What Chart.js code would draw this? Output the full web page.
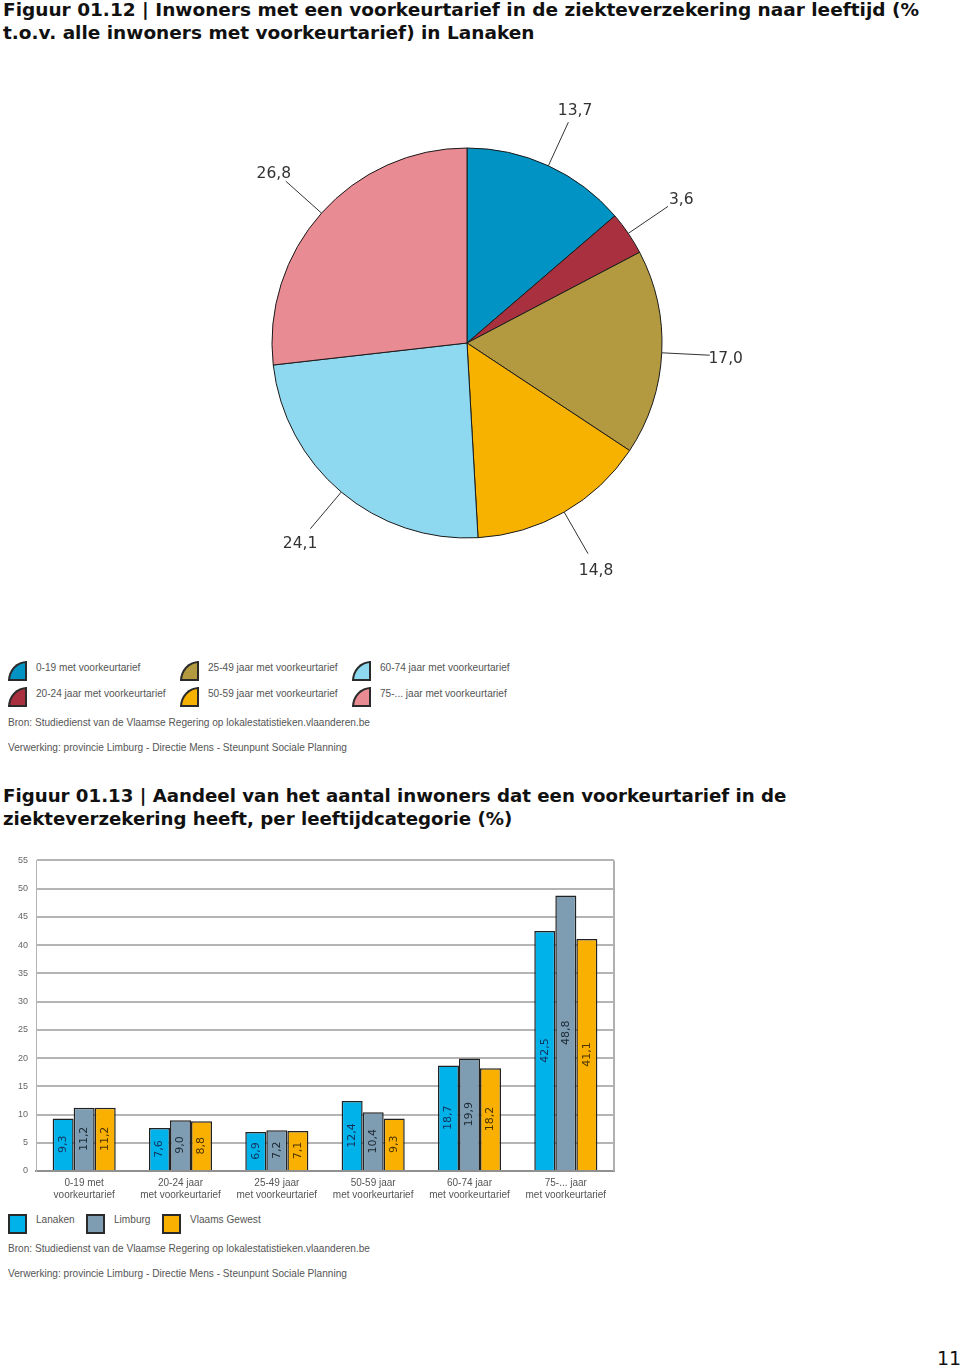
<!DOCTYPE html>
<html>
<head>
<meta charset="utf-8">
<script src="https://cdn.jsdelivr.net/npm/chart.js@4.4.1/dist/chart.umd.min.js"></script>
<style>
  html, body { margin:0; padding:0; background:#fff; }
  body { width:960px; height:1369px; position:relative; overflow:hidden; font-family:"DejaVu Sans", Verdana, sans-serif; }
  .title { position:absolute; left:3px; font-weight:bold; font-size:18.5px; line-height:22.5px; color:#111; white-space:nowrap; }
  .small { position:absolute; font-family:"Liberation Sans", Arial, sans-serif; font-size:10.1px; color:#555; white-space:nowrap; }
  .qicon { position:absolute; width:15px; height:16px; border:2px solid #2a2a2a; border-top-left-radius:100%; }
  .sq { position:absolute; width:15px; height:16px; border:2px solid #2a2a2a; }
  canvas { position:absolute; }
</style>
</head>
<body>
<div class="title" style="top:-1px;">Figuur 01.12 | Inwoners met een voorkeurtarief in de ziekteverzekering naar leeftijd (%<br>t.o.v. alle inwoners met voorkeurtarief) in Lanaken</div>

<canvas id="pie" width="600" height="560" style="left:167px; top:63px; width:600px; height:560px;"></canvas>

<div id="pieLegend"></div>
<div class="small" style="left:8px; top:717px;">Bron: Studiedienst van de Vlaamse Regering op lokalestatistieken.vlaanderen.be</div>
<div class="small" style="left:8px; top:742px;">Verwerking: provincie Limburg - Directie Mens - Steunpunt Sociale Planning</div>

<div class="title" style="top:785px; font-size:18.2px;">Figuur 01.13 | Aandeel van het aantal inwoners dat een voorkeurtarief in de<br>ziekteverzekering heeft, per leeftijdcategorie (%)</div>

<canvas id="bar" width="620" height="364" style="left:0px; top:847px; width:620px; height:364px;"></canvas>

<div id="barLegend"></div>
<div class="small" style="left:8px; top:1243px;">Bron: Studiedienst van de Vlaamse Regering op lokalestatistieken.vlaanderen.be</div>
<div class="small" style="left:8px; top:1268px;">Verwerking: provincie Limburg - Directie Mens - Steunpunt Sociale Planning</div>

<div style="position:absolute; left:937px; top:1347px; font-size:19px; color:#111;">11</div>

<script>
// ---------- DATA ----------
const pieLabels = ["0-19 met voorkeurtarief", "20-24 jaar met voorkeurtarief", "25-49 jaar met voorkeurtarief", "50-59 jaar met voorkeurtarief", "60-74 jaar met voorkeurtarief", "75-... jaar met voorkeurtarief"];
const pieValues = [13.7, 3.6, 17.0, 14.8, 24.1, 26.8];
const pieColors = ["#0093c4", "#a8303f", "#b39a41", "#f7b200", "#8ed8f0", "#e88b93"];

const barCategories = [["0-19 met", "voorkeurtarief"], ["20-24 jaar", "met voorkeurtarief"], ["25-49 jaar", "met voorkeurtarief"], ["50-59 jaar", "met voorkeurtarief"], ["60-74 jaar", "met voorkeurtarief"], ["75-... jaar", "met voorkeurtarief"]];
const seriesNames = ["Lanaken", "Limburg", "Vlaams Gewest"];
const lanaken = [9.3, 7.6, 6.9, 12.4, 18.7, 42.5];
const limburg = [11.2, 9.0, 7.2, 10.4, 19.9, 48.8];
const vlaams = [11.2, 8.8, 7.1, 9.3, 18.2, 41.1];
const barColors = ["#00b2ea", "#7f9db2", "#f9b000"];
const barLabelColors = ["#14305a", "#1c2833", "#4a3300"];
const yTicks = [0, 5, 10, 15, 20, 25, 30, 35, 40, 45, 50, 55];

const fmt = v => v.toFixed(1).replace('.', ',');

// ---------- LEGENDS (HTML) ----------
(function(){
  const pl = document.getElementById('pieLegend');
  const colX = [8, 180, 352];
  const rowY = [661, 687];
  const order = [[0,0],[1,0],[0,1],[1,1],[0,2],[1,2]]; // [row, col] per slice
  pieLabels.forEach((lab, i) => {
    const [r, c] = order[i];
    const ic = document.createElement('div');
    ic.className = 'qicon';
    ic.style.left = colX[c] + 'px'; ic.style.top = rowY[r] + 'px';
    ic.style.background = pieColors[i];
    pl.appendChild(ic);
    const t = document.createElement('div');
    t.className = 'small';
    t.style.left = (colX[c] + 28) + 'px'; t.style.top = (rowY[r] + 1) + 'px';
    t.textContent = lab;
    pl.appendChild(t);
  });
  const bl = document.getElementById('barLegend');
  const sx = [8, 86, 162];
  seriesNames.forEach((n, i) => {
    const s = document.createElement('div');
    s.className = 'sq';
    s.style.left = sx[i] + 'px'; s.style.top = '1214px';
    s.style.background = barColors[i];
    bl.appendChild(s);
    const t = document.createElement('div');
    t.className = 'small';
    t.style.left = (sx[i] + 28) + 'px'; t.style.top = '1214px';
    t.textContent = n;
    bl.appendChild(t);
  });
})();

// ---------- PIE ----------
const pieLabelPlugin = {
  id: 'pieLabels',
  afterDatasetsDraw(chart) {
    const ctx = chart.ctx;
    const meta = chart.getDatasetMeta(0);
    ctx.save();
    ctx.strokeStyle = '#333';
    ctx.lineWidth = 1;
    ctx.fillStyle = '#333';
    ctx.font = '15.5px "DejaVu Sans", Verdana, sans-serif';
    ctx.textAlign = 'center';
    ctx.textBaseline = 'middle';
    meta.data.forEach((arc, i) => {
      const p = arc.getProps(['x','y','startAngle','endAngle','outerRadius'], true);
      const mid = (p.startAngle + p.endAngle) / 2;
      const r = p.outerRadius;
      const cx = Math.cos(mid), cy = Math.sin(mid);
      ctx.beginPath();
      ctx.moveTo(p.x + cx * r, p.y + cy * r);
      ctx.lineTo(p.x + cx * (r + 48), p.y + cy * (r + 48));
      ctx.stroke();
      ctx.fillText(fmt(pieValues[i]), p.x + cx * (r + 64), p.y + cy * (r + 64) + 3);
    });
    ctx.restore();
  }
};

new Chart(document.getElementById('pie'), {
  type: 'pie',
  data: {
    labels: pieLabels,
    datasets: [{ data: pieValues, backgroundColor: pieColors, borderColor: '#1a1a1a', borderWidth: 1 }]
  },
  options: {
    responsive: false,
    animation: false,
    radius: 195,
    layout: { padding: 0 },
    plugins: { legend: { display: false }, tooltip: { enabled: false } }
  },
  plugins: [pieLabelPlugin]
});

// ---------- BAR ----------
const barLabelPlugin = {
  id: 'barLabels',
  afterDatasetsDraw(chart) {
    const ctx = chart.ctx;
    ctx.save();
    ctx.font = '11px "DejaVu Sans", Verdana, sans-serif';
    ctx.textAlign = 'center';
    ctx.textBaseline = 'middle';
    chart.data.datasets.forEach((ds, di) => {
      const meta = chart.getDatasetMeta(di);
      meta.data.forEach((bar, i) => {
        const p = bar.getProps(['x','y','base'], true);
        const my = (p.y + p.base) / 2;
        ctx.save();
        ctx.translate(p.x, my);
        ctx.rotate(-Math.PI / 2);
        ctx.fillStyle = barLabelColors[di];
        ctx.fillText(fmt(ds.data[i]), 0, 0);
        ctx.restore();
      });
    });
    ctx.restore();
  }
};
const framePlugin = {
  id: 'frame',
  beforeDatasetsDraw(chart) {
    const a = chart.chartArea, ctx = chart.ctx;
    ctx.save();
    ctx.strokeStyle = '#b0b0b0';
    ctx.lineWidth = 2;
    ctx.beginPath();
    ctx.moveTo(a.right, a.top); ctx.lineTo(a.right, a.bottom);
    ctx.stroke();
    ctx.restore();
  }
};

new Chart(document.getElementById('bar'), {
  type: 'bar',
  data: {
    labels: barCategories,
    datasets: [
      { label: seriesNames[0], data: lanaken, backgroundColor: barColors[0] },
      { label: seriesNames[1], data: limburg, backgroundColor: barColors[1] },
      { label: seriesNames[2], data: vlaams, backgroundColor: barColors[2] }
    ]
  },
  options: {
    responsive: false,
    animation: false,
    layout: { padding: { top: 5, right: 6, left: 0, bottom: 0 } },
    datasets: { bar: { borderColor: '#222', borderWidth: 1.5, categoryPercentage: 0.655, barPercentage: 1.0 } },
    plugins: { legend: { display: false }, tooltip: { enabled: false } },
    scales: {
      x: {
        grid: { display: false },
        border: { color: '#909090', width: 2 },
        ticks: { color: '#555', font: { family: '"Liberation Sans", Arial, sans-serif', size: 10, lineHeight: 1.2 }, maxRotation: 0, padding: -2 },
        afterFit: s => { s.height = 40; }
      },
      y: {
        min: 0, max: 55,
        afterBuildTicks: s => { s.ticks = yTicks.map(v => ({ value: v })); },
        grid: { color: '#b4b4b4', lineWidth: 2, drawTicks: false },
        border: { color: '#b4b4b4', width: 1 },
        ticks: { color: '#666', font: { family: '"Liberation Sans", Arial, sans-serif', size: 9 }, padding: 8 },
        afterFit: s => { s.width = 36; }
      }
    }
  },
  plugins: [framePlugin, barLabelPlugin]
});
</script>
</body>
</html>
